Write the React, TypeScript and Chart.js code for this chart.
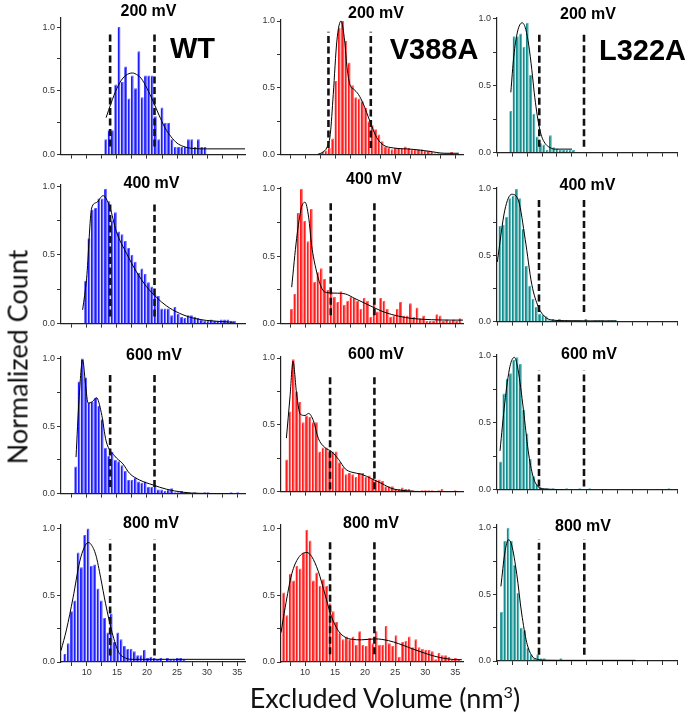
import React, { useEffect, useRef } from 'react';
import { Chart, registerables } from 'chart.js';

Chart.register(...registerables);

// ---------------- data ----------------
const MUTANTS = ['WT', 'V388A', 'L322A'];
const VOLTAGES = ['200 mV', '400 mV', '600 mV', '800 mV'];
const X_TICK_LABELS = [10, 15, 20, 25, 30, 35];
const Y_TICK_LABELS = [0, 0.5, 1.0];
const BIN = 0.55;

// WT
const WT_200_START = 13.15;
const WT_200_BARS = [0.12, 0.19, 0.19, 0.55, 1.0, 0.57, 0.69, 0.44, 0.62, 0.52, 0.81, 0.45, 0.62, 0.62, 0.62, 0.30, 0.12, 0.37, 0.25, 0.25, 0.12, 0.06, 0.06, 0.06, 0.06, 0.12, 0.12, 0.06, 0.12, 0.06, 0.06];
const WT_200_FIT_X = [13.2, 14, 15, 16, 17, 17.6, 18, 19, 20, 21, 22, 23, 24, 25, 26, 27, 28, 30, 36.3];
const WT_200_FIT_Y = [0.29, 0.40, 0.52, 0.60, 0.635, 0.64, 0.635, 0.60, 0.52, 0.42, 0.31, 0.21, 0.14, 0.09, 0.065, 0.052, 0.047, 0.045, 0.045];

const WT_400_START = 9.8;
const WT_400_BARS = [0.31, 0.62, 0.83, 0.84, 0.91, 0.91, 0.98, 0.89, 0.75, 0.81, 0.67, 0.65, 0.60, 0.55, 0.50, 0.45, 0.37, 0.40, 0.36, 0.30, 0.27, 0.21, 0.20, 0.11, 0.11, 0.11, 0.06, 0.12, 0.07, 0.05, 0.04, 0.06, 0.06, 0.05, 0.04, 0.03, 0.02, 0.02, 0.03, 0.02, 0.02, 0.03, 0.03, 0.03, 0.02, 0.02];
const WT_400_FIT_X = [9.3, 9.96, 10.8, 11.6, 12.7, 13.8, 14.9, 16.6, 18.2, 19.9, 21.6, 23.2, 25.4, 27.7, 29.9, 34.4];
const WT_400_FIT_Y = [0.10, 0.33, 0.84, 0.88, 0.93, 0.85, 0.67, 0.51, 0.38, 0.27, 0.19, 0.13, 0.075, 0.04, 0.023, 0.01];

const WT_600_START = 8.15;
const WT_600_BARS = [0.20, 0.83, 1.0, 0.86, 0.67, 0.68, 0.71, 0.65, 0.55, 0.34, 0.28, 0.31, 0.25, 0.24, 0.21, 0.17, 0.10, 0.10, 0.12, 0.09, 0.08, 0.09, 0.05, 0.05, 0.06, 0.03, 0.03, 0.02, 0.03, 0.04, 0.01, 0.01, 0.02, 0, 0, 0, 0.01, 0, 0, 0.01, 0.01, 0, 0, 0, 0, 0, 0, 0.01, 0, 0.01];
const WT_600_FIT_X = [8.2, 8.7, 9.3, 9.8, 10.2, 10.9, 11.6, 12.4, 13.2, 14.6, 16.0, 17.1, 18.8, 21.0, 23.2, 26.0, 28.8, 34.3];
const WT_600_FIT_Y = [0.27, 0.70, 0.99, 0.80, 0.67, 0.68, 0.71, 0.60, 0.39, 0.28, 0.22, 0.15, 0.10, 0.064, 0.033, 0.01, 0.002, 0.0];

const WT_800_START = 6.35;
const WT_800_BARS = [0.06, 0.14, 0.38, 0.46, 0.82, 0.71, 0.95, 1.0, 0.72, 0.73, 0.55, 0.46, 0.33, 0.22, 0.36, 0.15, 0.22, 0.17, 0.12, 0.10, 0.10, 0.08, 0.05, 0.05, 0.09, 0.03, 0.04, 0.03, 0.02, 0.03, 0.01, 0.03, 0.02, 0.02, 0.03, 0.03, 0.02, 0, 0.01, 0, 0.01, 0.01, 0.01];
const WT_800_FIT_X = [5.7, 6.6, 7.7, 8.8, 9.6, 10.2, 10.7, 11.5, 12.3, 13.1, 14.2, 15.3, 16.4, 17.5, 20, 36.3];
const WT_800_FIT_Y = [0.085, 0.24, 0.48, 0.75, 0.86, 0.895, 0.88, 0.80, 0.63, 0.44, 0.22, 0.073, 0.03, 0.02, 0.02, 0.02];

// V388A
const V388A_200_START = 12.4;
const V388A_200_BARS = [0.01, 0.02, 0.03, 0.05, 0.12, 0.55, 0.95, 1.0, 0.85, 0.69, 0.52, 0.43, 0.42, 0.40, 0.35, 0.25, 0.22, 0.19, 0.15, 0.10, 0.06, 0.05, 0.04, 0.05, 0.05, 0.05, 0.06, 0.05, 0.04, 0.04, 0.04, 0.04, 0.03, 0.03, 0.02, 0.01, 0.01, 0.01, 0.01, 0.01, 0.02];
const V388A_200_FIT_X = [12.1, 13.0, 13.6, 14.2, 14.7, 15.3, 16.0, 16.6, 17.0, 17.5, 18.1, 18.9, 19.7, 20.8, 21.9, 23.1, 24.7, 27.8, 30.6, 33.3, 35.6];
const V388A_200_FIT_Y = [0.0, 0.02, 0.05, 0.15, 0.45, 0.85, 1.0, 0.85, 0.65, 0.52, 0.49, 0.45, 0.38, 0.25, 0.13, 0.07, 0.05, 0.04, 0.025, 0.01, 0.01];

const V388A_400_START = 7.75;
const V388A_400_BARS = [0.11, 0.22, 0.82, 1.0, 0.76, 0.61, 0.85, 0.31, 0.38, 0.41, 0.33, 0.25, 0.24, 0.20, 0.16, 0.24, 0.14, 0.17, 0.20, 0.19, 0.17, 0.11, 0.19, 0.17, 0.05, 0.16, 0.09, 0.19, 0.17, 0.11, 0.05, 0.06, 0.11, 0.16, 0.06, 0.06, 0.15, 0.05, 0.12, 0.04, 0.06, 0.02, 0.02, 0.02, 0.07, 0.06, 0.02, 0.03, 0.02, 0.03, 0.02, 0.04];
const V388A_400_FIT_X = [7.78, 8.6, 9.4, 10.0, 10.6, 11.1, 11.9, 12.8, 13.6, 15.0, 16.7, 18.3, 20.0, 21.7, 23.3, 25.6, 27.8, 31.1, 34.4, 36.3];
const V388A_400_FIT_Y = [0.27, 0.63, 0.86, 0.90, 0.79, 0.58, 0.39, 0.26, 0.23, 0.226, 0.22, 0.186, 0.15, 0.114, 0.083, 0.055, 0.038, 0.029, 0.026, 0.026];

const V388A_600_START = 6.95;
const V388A_600_BARS = [0.24, 0.60, 0.99, 0.75, 0.67, 0.52, 0.57, 0.56, 0.52, 0.52, 0.30, 0.33, 0.33, 0.30, 0.30, 0.30, 0.22, 0.18, 0.13, 0.14, 0.13, 0.11, 0.14, 0.14, 0.11, 0.12, 0.10, 0.09, 0.09, 0.08, 0.04, 0.04, 0.04, 0.02, 0.02, 0.03, 0.02, 0.02, 0.01, 0, 0, 0.01, 0.01, 0.01, 0.01, 0, 0.01, 0.02, 0, 0, 0, 0.01];
const V388A_600_FIT_X = [6.9, 7.5, 8.0, 8.6, 9.2, 10.0, 10.6, 11.4, 12.2, 13.3, 14.4, 15.6, 16.7, 17.8, 19.4, 21.1, 22.8, 24.4, 26.7, 30.0, 35.6];
const V388A_600_FIT_Y = [0.40, 0.71, 0.975, 0.73, 0.58, 0.57, 0.585, 0.53, 0.40, 0.33, 0.30, 0.24, 0.17, 0.145, 0.13, 0.096, 0.06, 0.024, 0.007, 0.0, 0.0];

const V388A_800_START = 6.45;
const V388A_800_BARS = [0.52, 0.35, 0.66, 0.61, 0.72, 0.70, 0.82, 0.99, 0.91, 0.61, 0.67, 0.57, 0.62, 0.57, 0.44, 0.38, 0.30, 0.22, 0.17, 0.19, 0.17, 0.19, 0.13, 0.23, 0.13, 0.12, 0.18, 0.14, 0.23, 0.13, 0.13, 0.27, 0.14, 0.12, 0.20, 0.04, 0.15, 0.16, 0.19, 0.11, 0.17, 0.11, 0.10, 0.09, 0.09, 0.08, 0.02, 0.07, 0.05, 0.05, 0.04, 0.02, 0.03, 0.02];
const V388A_800_FIT_X = [6.0, 6.7, 7.8, 8.9, 10.3, 11.1, 12.2, 13.3, 14.4, 15.6, 16.7, 17.8, 19.4, 21.7, 23.9, 25.6, 27.8, 30.0, 32.2, 34.4, 36.1];
const V388A_800_FIT_Y = [0.22, 0.41, 0.66, 0.78, 0.82, 0.79, 0.68, 0.51, 0.34, 0.23, 0.185, 0.17, 0.166, 0.173, 0.16, 0.137, 0.10, 0.065, 0.036, 0.02, 0.017];

// L322A
const L322A_200_START = 8.1;
const L322A_200_BARS = [0.31, 0.87, 0.87, 0.89, 0.79, 0.97, 0.58, 0.29, 0.12, 0.07, 0.06, 0.02, 0.13, 0.04, 0.03, 0.02, 0.02, 0.02, 0.02, 0.02];
const L322A_200_FIT_X = [8.1, 8.6, 9.2, 10.0, 10.6, 11.1, 11.6, 12.0, 12.4, 12.8, 13.25, 13.8, 14.35, 15.45, 18.3];
const L322A_200_FIT_Y = [0.45, 0.72, 0.90, 0.97, 0.92, 0.80, 0.62, 0.45, 0.31, 0.20, 0.12, 0.07, 0.045, 0.026, 0.026];

const L322A_400_START = 6.3;
const L322A_400_BARS = [0.72, 0.73, 0.79, 0.93, 0.95, 1.0, 0.93, 0.70, 0.42, 0.27, 0.17, 0.11, 0.06, 0.05, 0.04, 0.01, 0.02, 0, 0.02, 0.01, 0.01, 0, 0, 0.01, 0.01, 0, 0.02, 0, 0, 0.01, 0.01, 0.01, 0, 0.01, 0.01, 0.01];
const L322A_400_FIT_X = [5.85, 7.1, 8.25, 9.4, 10.5, 11.6, 12.7, 13.8, 14.9, 17.1, 25.7];
const L322A_400_FIT_Y = [0.45, 0.84, 0.96, 0.91, 0.62, 0.28, 0.11, 0.036, 0.012, 0.007, 0.005];

const L322A_600_START = 6.4;
const L322A_600_BARS = [0.21, 0.72, 0.83, 0.87, 0.97, 0.99, 0.94, 0.60, 0.42, 0.23, 0.10, 0.04, 0.02, 0.01, 0.01, 0, 0.01, 0, 0, 0, 0.01, 0, 0, 0, 0.01, 0, 0, 0.01, 0, 0, 0, 0, 0, 0, 0, 0, 0, 0, 0, 0, 0, 0, 0, 0, 0, 0, 0, 0, 0, 0, 0, 0.01];
const L322A_600_FIT_X = [6.3, 7.1, 7.95, 8.7, 9.3, 10.2, 11.0, 11.8, 12.6, 13.7, 17.0];
const L322A_600_FIT_Y = [0.29, 0.65, 0.92, 0.99, 0.90, 0.60, 0.29, 0.10, 0.024, 0.005, 0.0];

const L322A_800_START = 6.55;
const L322A_800_BARS = [0.37, 0.90, 1.0, 0.90, 0.72, 0.51, 0.25, 0.23, 0.10, 0.05, 0.02, 0.05, 0.02, 0.02, 0.01, 0.01, 0, 0, 0.02, 0, 0, 0, 0, 0, 0.01, 0, 0, 0.01, 0, 0, 0.01, 0, 0, 0, 0.01, 0, 0, 0, 0, 0.01];
const L322A_800_FIT_X = [6.45, 7.1, 7.7, 8.25, 9.1, 9.9, 10.75, 11.6, 12.6, 14.0, 17.0, 28.9];
const L322A_800_FIT_Y = [0.56, 0.81, 0.91, 0.87, 0.65, 0.36, 0.14, 0.04, 0.012, 0.006, 0.005, 0.005];

// dashed guide positions (x values) per row, per column
const DASH_X = [
  [[13.87, 21.25], [13.9, 20.95], [12.85, 20.3]],
  [[13.87, 21.25], [14.28, 21.55], [12.8, 20.3]],
  [[13.87, 21.25], [14.17, 21.55], [12.8, 20.3]],
  [[13.87, 21.25], [14.17, 21.55], [12.8, 20.35]],
];

// ---------------- layout / style ----------------
const COL_AXIS_X = [61, 281, 497];
const COL_RIGHT = [245, 463, 677];
const COL_XMIN = [5.7, 6.0, 5.8];
const COL_XMAX = [36.3, 36.3, 35.8];
const PANEL_Y0 = [[155.3, 155.3, 152.7], [324, 324.3, 321.7], [494, 491.7, 490], [661.7, 662.3, 660.7]];
const PANEL_PPU = [[132, 138.6, 138.7], [142.3, 140, 137.3], [140, 138.3, 138.3], [137.7, 138.3, 137.3]];
const PANEL_YMAX = [[1.076, 1.012, 1.01], [1.012, 1.01, 1.012], [1.016, 1.012, 1.012], [1.03, 1.03, 1.025]];
const DASH_Y = [
  [[0.063, 0.964], [0.05, 0.92], [0.043, 0.9]],
  [[0.051, 0.883], [0.061, 0.916], [0.073, 0.94]],
  [[0.048, 0.9], [0.017, 0.88], [0.024, 0.89]],
  [[0.048, 0.915], [0.058, 0.92], [0.046, 0.915]],
];
const TITLE_POS = [
  [[148.5, 11], [376, 12.5], [588, 13.5]],
  [[151.5, 183], [374, 179], [587.5, 185]],
  [[154, 355], [376, 354], [589, 354]],
  [[151, 523], [371, 522.5], [583, 525.5]],
];
const MUTANT_POS = [[192.5, 47.5], [434, 49], [642.5, 50]];
const BAR_COLORS = ['#1c1cff', '#ff1c1c', '#128c8c'];
const BAR_EDGES = ['#5a5aff', '#ff5a5a', '#4fb3b3'];

const YW = 30;
const PT = 3;
const PR = 5;

const DATA: any = {
  WT: [
    [WT_200_START, WT_200_BARS, WT_200_FIT_X, WT_200_FIT_Y],
    [WT_400_START, WT_400_BARS, WT_400_FIT_X, WT_400_FIT_Y],
    [WT_600_START, WT_600_BARS, WT_600_FIT_X, WT_600_FIT_Y],
    [WT_800_START, WT_800_BARS, WT_800_FIT_X, WT_800_FIT_Y],
  ],
  V388A: [
    [V388A_200_START, V388A_200_BARS, V388A_200_FIT_X, V388A_200_FIT_Y],
    [V388A_400_START, V388A_400_BARS, V388A_400_FIT_X, V388A_400_FIT_Y],
    [V388A_600_START, V388A_600_BARS, V388A_600_FIT_X, V388A_600_FIT_Y],
    [V388A_800_START, V388A_800_BARS, V388A_800_FIT_X, V388A_800_FIT_Y],
  ],
  L322A: [
    [L322A_200_START, L322A_200_BARS, L322A_200_FIT_X, L322A_200_FIT_Y],
    [L322A_400_START, L322A_400_BARS, L322A_400_FIT_X, L322A_400_FIT_Y],
    [L322A_600_START, L322A_600_BARS, L322A_600_FIT_X, L322A_600_FIT_Y],
    [L322A_800_START, L322A_800_BARS, L322A_800_FIT_X, L322A_800_FIT_Y],
  ],
};

function Panel({ row, col }: { row: number; col: number }) {
  const ref = useRef<HTMLCanvasElement>(null);
  const bottom = row === VOLTAGES.length - 1;
  const XH = bottom ? 20 : 7;
  const axisX = COL_AXIS_X[col];
  const plotW = COL_RIGHT[col] - axisX;
  const y0 = PANEL_Y0[row][col];
  const ppu = PANEL_PPU[row][col];
  const ymax = PANEL_YMAX[row][col];
  const plotTop = y0 - ymax * ppu;
  const plotH = y0 - plotTop;
  const left = axisX - YW;
  const top = plotTop - PT;
  const width = Math.round(YW + plotW + PR);
  const height = Math.round(PT + plotH + XH);

  useEffect(() => {
    const [start, bars, fitX, fitY] = DATA[MUTANTS[col]][row];
    const [d1, d2] = DASH_X[row][col];
    const [lo, hi] = DASH_Y[row][col];
    const dashDs = (x: number) => ({
      type: 'line',
      data: [{ x, y: lo }, { x, y: hi }],
      borderColor: '#111',
      borderWidth: 2.6,
      borderDash: [7, 3.5],
      pointRadius: 0,
      order: 0,
    });
    const tickFont = { family: 'Liberation Sans, Arial, sans-serif', size: 9 };
    const chart = new Chart(ref.current as HTMLCanvasElement, {
      type: 'bar',
      data: {
        datasets: [
          {
            type: 'bar',
            data: bars.map((v: number, i: number) => ({ x: start + i * BIN, y: v })),
            backgroundColor: BAR_COLORS[col],
            borderColor: BAR_EDGES[col],
            borderWidth: { top: 1, left: 0, right: 1, bottom: 0 },
            borderSkipped: 'start',
            barPercentage: 0.86,
            categoryPercentage: 1,
            order: 3,
          } as any,
          {
            type: 'line',
            data: fitX.map((x: number, i: number) => ({ x, y: fitY[i] })),
            borderColor: '#000',
            borderWidth: 1,
            pointRadius: 0,
            cubicInterpolationMode: 'monotone',
            order: 1,
          } as any,
          dashDs(d1) as any,
          dashDs(d2) as any,
        ],
      },
      options: {
        responsive: false,
        animation: false,
        events: [],
        layout: { padding: { top: PT, right: PR, left: 0, bottom: 0 } },
        plugins: { legend: { display: false }, tooltip: { enabled: false }, title: { display: false } },
        scales: {
          x: {
            type: 'linear',
            min: COL_XMIN[col],
            max: COL_XMAX[col],
            offset: false,
            grid: { display: true, offset: false, drawOnChartArea: false, drawTicks: true, tickLength: 4, color: '#333', lineWidth: 1 },
            border: { display: true, color: '#222', width: 1.2 },
            ticks: {
              stepSize: 2.5,
              autoSkip: false,
              includeBounds: false,
              maxRotation: 0,
              padding: 1,
              color: '#333',
              font: tickFont,
              callback: (v: any) => (bottom && X_TICK_LABELS.includes(Number(v)) ? String(v) : ''),
            },
            afterFit: (s: any) => {
              s.height = XH;
            },
          },
          y: {
            type: 'linear',
            min: 0,
            max: ymax,
            grid: { display: true, drawOnChartArea: false, drawTicks: true, tickLength: 4, color: '#333', lineWidth: 1 },
            border: { display: true, color: '#222', width: 1.2 },
            ticks: {
              stepSize: 0.25,
              includeBounds: false,
              padding: 2,
              color: '#333',
              font: tickFont,
              callback: (v: any) => {
                const n = Number(v);
                return Y_TICK_LABELS.some((t) => Math.abs(t - n) < 1e-6) ? n.toFixed(1) : '';
              },
            },
            afterFit: (s: any) => {
              s.width = YW;
            },
          },
        },
      } as any,
    });
    return () => chart.destroy();
  }, []);

  return (
    <canvas
      ref={ref}
      width={width}
      height={height}
      style={{ position: 'absolute', left, top, width, height }}
    />
  );
}

export default function App() {
  const cells: any[] = [];
  for (let r = 0; r < VOLTAGES.length; r++) {
    for (let c = 0; c < MUTANTS.length; c++) {
      cells.push(<Panel key={`p${r}-${c}`} row={r} col={c} />);
      const [tx, ty] = TITLE_POS[r][c];
      cells.push(
        <div
          key={`t${r}-${c}`}
          style={{
            position: 'absolute',
            left: tx,
            top: ty,
            transform: 'translate(-50%, -50%)',
            font: 'bold 16px "Liberation Sans", Arial, sans-serif',
            color: '#000',
            whiteSpace: 'nowrap',
            lineHeight: 1,
          }}
        >
          {VOLTAGES[r]}
        </div>
      );
    }
  }
  return (
    <div style={{ position: 'absolute', left: 0, top: 0, width: 690, height: 716, background: '#fff', overflow: 'hidden' }}>
      {cells}
      {MUTANTS.map((m, i) => (
        <div
          key={m}
          style={{
            position: 'absolute',
            left: MUTANT_POS[i][0],
            top: MUTANT_POS[i][1],
            transform: 'translate(-50%, -50%)',
            font: 'bold 29px "Liberation Sans", Arial, sans-serif',
            color: '#000',
            whiteSpace: 'nowrap',
            lineHeight: 1,
          }}
        >
          {m}
        </div>
      ))}
      <div
        style={{
          position: 'absolute',
          left: 17,
          top: 357,
          transform: 'translate(-50%, -50%) rotate(-90deg)',
          font: '27px Lato, "Open Sans", sans-serif',
          color: '#111',
          whiteSpace: 'nowrap',
          lineHeight: 1,
        }}
      >
        Normalized Count
      </div>
      <div
        style={{
          position: 'absolute',
          left: 385,
          top: 697,
          transform: 'translate(-50%, -50%)',
          font: '27px Lato, "Open Sans", sans-serif',
          color: '#111',
          whiteSpace: 'nowrap',
          lineHeight: 1,
        }}
      >
        Excluded Volume (nm<sup style={{ fontSize: '0.6em', verticalAlign: '0.6em', lineHeight: 0 }}>3</sup>)
      </div>
    </div>
  );
}
